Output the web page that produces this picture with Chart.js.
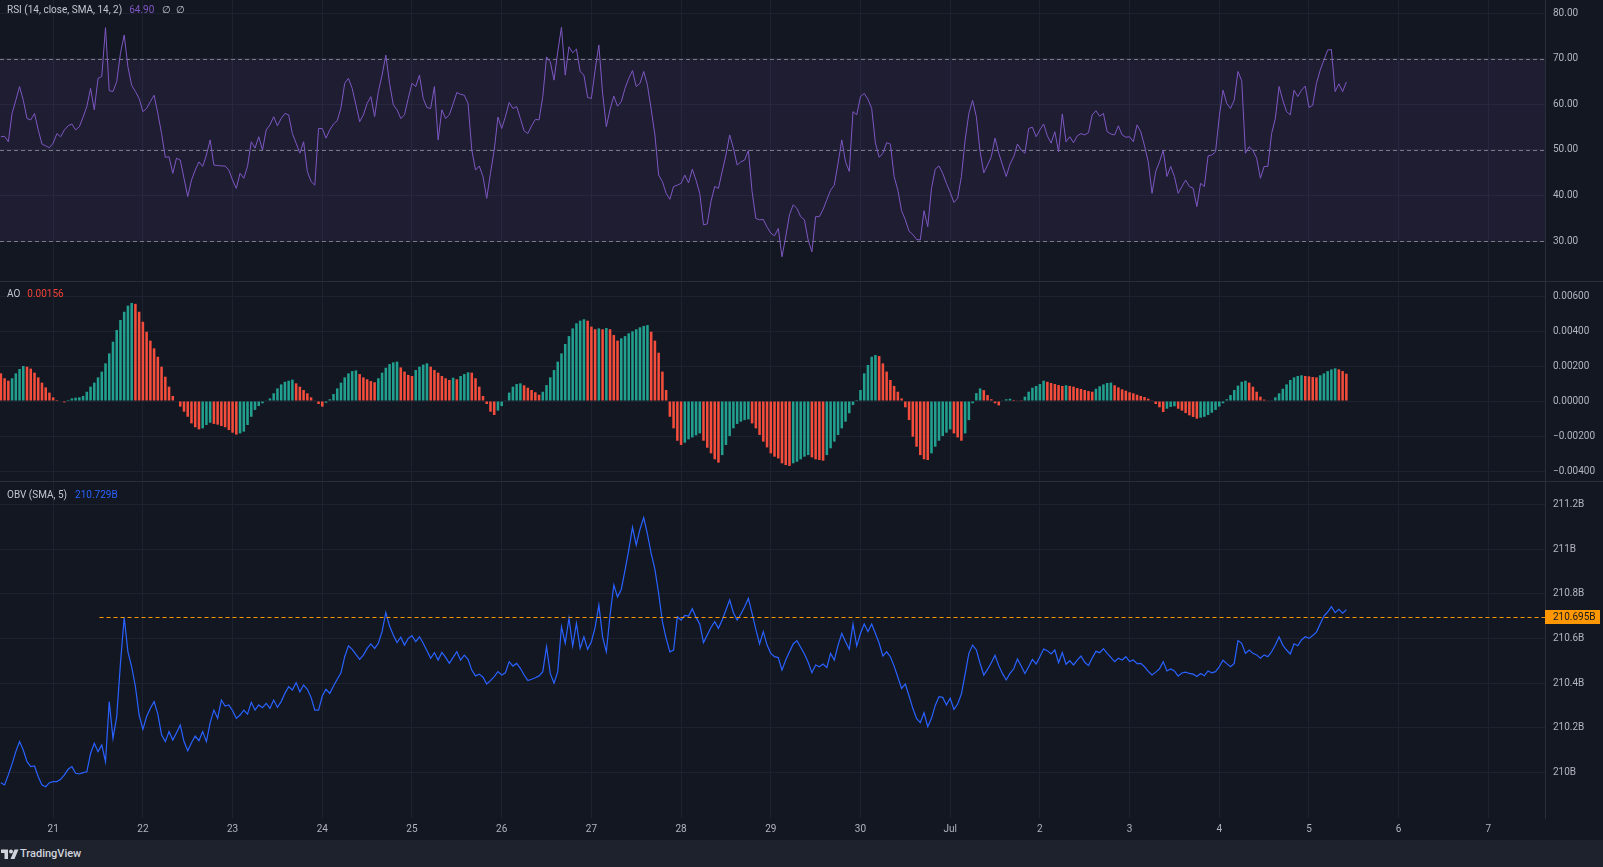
<!DOCTYPE html>
<html>
<head>
<meta charset="utf-8">
<title>RSI / AO / OBV</title>
<script src="https://cdn.jsdelivr.net/npm/chart.js@4.4.1/dist/chart.umd.min.js"></script>
<style>
    html, body { margin: 0; padding: 0; background: #131722; }
    body { width: 1603px; height: 867px; position: relative; overflow: hidden; font-family: Roboto, 'Noto Sans', sans-serif; }
    canvas { position: absolute; left: 0; display: block; }
    .sep { position: absolute; left: 0; width: 1603px; height: 1px; background: #2a2e39; }
    .legend { position: absolute; left: 7px; font-size: 10px; line-height: 12px; color: #c3c6ce; white-space: nowrap; }
    .legend span { margin-left: 5px; }
    #footer { position: absolute; left: 0; top: 840px; width: 1603px; height: 27px; background: #1e222d; }
    #footer svg { position: absolute; left: 1px; top: 9px; }
    #footer .brand { position: absolute; left: 20px; top: 7px; font-size: 11px; line-height: 14px; font-weight: 500; color: #d1d4dc; }
</style>
</head>
<body>
<canvas id="rsiChart" width="1603" height="281" style="top:0"></canvas>
<div class="sep" style="top:281px"></div>
<canvas id="aoChart" width="1603" height="199" style="top:282px"></canvas>
<div class="sep" style="top:481px"></div>
<canvas id="obvChart" width="1603" height="358" style="top:482px"></canvas>

<div class="legend" id="rsiLegend" style="top:4px">RSI (14, close, SMA, 14, 2)<span id="rsiLast" style="color:#7e57c2;margin-left:7px"></span><span style="margin-left:8px">∅</span><span>∅</span></div>
<div class="legend" id="aoLegend" style="top:288px">AO<span id="aoLast" style="color:#f44336;margin-left:7px"></span></div>
<div class="legend" id="obvLegend" style="top:489px">OBV (SMA, 5)<span id="obvLast" style="color:#2962ff;margin-left:8px"></span></div>

<div id="footer">
    <svg width="18" height="10" viewBox="0 0 36 20">
        <path d="M14 20H7V8H0V1h14z" fill="#d1d4dc"/>
        <circle cx="20" cy="5" r="4" fill="#d1d4dc"/>
        <path d="M27 20h-8l8-19h8z" fill="#d1d4dc"/>
    </svg>
    <div class="brand">TradingView</div>
</div>

<script>
// hourly bars, hour 0 = 21 Jun 00:00
const FIRST_HOUR = -14;
const X_MIN = -14.23;
const X_MAX = 399.15;

const DAY_TICK_HOURS = [0, 24, 48, 72, 96, 120, 144, 168, 192, 216, 240, 264, 288, 312, 336, 360, 384];
const DAY_LABELS = ['21', '22', '23', '24', '25', '26', '27', '28', '29', '30', 'Jul', '2', '3', '4', '5', '6', '7'];

const RSI_VALUES = [
    52.9,53.0,51.8,58.0,60.9,63.9,60.9,56.9,56.6,58.0,54.4,51.3,50.9,50.5,
    51.5,53.6,52.9,54.4,55.3,55.7,54.4,55.1,57.2,59.5,63.5,58.8,65.7,66.1,76.8,63.0,62.8,65.0,71.2,75.2,68.2,64.2,62.8,61.3,
    58.4,59.1,60.6,62.0,58.0,53.6,48.4,48.5,44.9,48.2,47.8,43.8,39.8,43.4,45.6,47.4,46.4,48.9,52.2,46.7,46.6,46.5,46.5,45.6,
    43.4,41.6,44.9,43.8,46.4,51.8,50.4,52.9,50.0,54.4,55.5,57.3,55.3,56.9,58.0,57.7,53.6,51.5,49.3,51.8,45.3,43.1,42.3,54.7,
    54.7,52.6,54.4,55.7,56.4,59.3,64.6,65.7,63.5,59.9,56.2,57.7,60.2,61.7,57.3,62.8,66.4,70.8,64.6,59.9,58.8,56.9,57.7,61.3,
    64.6,63.9,66.4,61.3,59.3,59.1,63.9,52.2,58.8,56.9,57.7,60.1,62.6,62.2,62.0,60.2,50.0,45.6,46.5,44.2,39.4,44.9,50.0,57.2,
    54.7,57.3,60.4,59.1,59.5,56.9,54.2,53.6,55.3,56.7,56.6,61.7,70.4,69.3,65.3,71.5,76.9,66.4,72.6,71.3,72.1,67.2,66.4,61.5,
    61.3,67.5,73.0,62.4,55.1,58.9,61.8,59.6,60.6,63.5,65.7,67.4,63.9,64.6,67.2,64.2,58.9,53.3,44.5,43.1,40.5,39.2,42.0,42.3,
    42.7,44.5,42.8,45.8,43.4,40.5,33.6,33.8,38.7,42.0,41.6,45.3,48.9,53.3,50.4,46.7,47.4,47.8,49.9,40.9,35.0,34.7,34.8,33.1,
    31.8,31.2,32.8,26.6,31.0,35.8,38.0,37.2,35.4,34.7,30.3,27.7,35.4,35.4,37.0,39.1,41.2,42.3,47.1,52.2,47.4,45.3,58.4,57.7,
    61.7,62.4,61.1,59.1,51.5,48.4,49.3,51.6,51.3,44.2,41.2,36.7,34.7,32.2,31.5,30.4,30.3,36.7,33.2,41.6,45.8,46.5,44.9,42.7,
    40.7,38.5,39.4,44.2,52.2,58.0,60.9,57.3,49.6,45.0,46.7,48.5,52.6,49.3,46.7,44.2,46.9,48.5,51.3,50.0,49.3,54.7,55.0,52.9,
    54.4,55.7,53.1,51.5,54.0,49.6,57.9,51.8,52.9,51.6,53.1,53.6,53.3,53.8,57.7,58.6,57.4,58.0,54.0,53.5,53.3,55.3,53.3,52.8,
    52.9,51.8,55.5,54.0,50.9,47.4,40.5,45.3,47.4,49.9,44.2,46.4,44.2,40.5,42.0,43.4,42.0,41.6,37.6,42.7,42.0,48.7,48.9,49.6,
    57.3,63.1,60.2,59.1,60.9,67.2,65.2,49.3,50.7,49.9,48.2,43.8,46.4,46.4,53.6,56.9,63.9,60.9,58.4,57.7,63.1,61.7,63.1,64.0,
    59.3,59.8,64.6,67.5,69.7,71.9,72.0,62.8,64.5,62.8,64.9
];
const RSI_LEVELS = [70, 50, 30];
const RSI_TICKS = [30, 40, 50, 60, 70, 80];

const AO_VALUES = [
    0.00158,0.00130,0.00116,0.00130,0.00158,0.00183,0.00200,0.00196,0.00185,0.00162,0.00135,0.00105,0.00078,0.00048,
    0.00021,0.00006,0.00003,-0.00008,0.00006,0.00015,0.00019,0.00021,0.00029,0.00053,0.00082,0.00105,0.00135,0.00168,0.00215,0.00272,0.00339,0.00406,0.00463,0.00510,0.00545,0.00560,0.00555,0.00510,
    0.00453,0.00396,0.00345,0.00301,0.00253,0.00196,0.00139,0.00082,0.00029,0.00003,-0.00032,-0.00061,-0.00090,-0.00128,-0.00150,-0.00162,-0.00156,-0.00137,-0.00124,-0.00131,-0.00135,-0.00143,-0.00150,-0.00166,
    -0.00181,-0.00192,-0.00185,-0.00175,-0.00137,-0.00090,-0.00051,-0.00029,-0.00013,0.00002,0.00015,0.00044,0.00072,0.00095,0.00110,0.00116,0.00122,0.00101,0.00082,0.00063,0.00044,0.00021,0.00002,-0.00017,
    -0.00032,-0.00010,0.00010,0.00040,0.00072,0.00105,0.00135,0.00158,0.00171,0.00175,0.00154,0.00135,0.00124,0.00114,0.00107,0.00130,0.00162,0.00190,0.00211,0.00221,0.00225,0.00192,0.00168,0.00149,
    0.00143,0.00177,0.00196,0.00208,0.00215,0.00196,0.00177,0.00162,0.00143,0.00130,0.00120,0.00133,0.00124,0.00143,0.00154,0.00164,0.00162,0.00130,0.00082,0.00029,-0.00017,-0.00061,-0.00080,-0.00055,
    -0.00029,0.00002,0.00048,0.00082,0.00097,0.00101,0.00090,0.00076,0.00063,0.00050,0.00036,0.00053,0.00091,0.00135,0.00177,0.00225,0.00272,0.00326,0.00371,0.00415,0.00444,0.00459,0.00467,0.00459,
    0.00425,0.00410,0.00415,0.00410,0.00417,0.00410,0.00377,0.00345,0.00358,0.00371,0.00387,0.00398,0.00410,0.00421,0.00429,0.00434,0.00396,0.00345,0.00276,0.00168,0.00063,-0.00090,-0.00156,-0.00227,
    -0.00251,-0.00238,-0.00219,-0.00208,-0.00196,-0.00185,-0.00227,-0.00267,-0.00299,-0.00333,-0.00352,-0.00309,-0.00251,-0.00200,-0.00156,-0.00131,-0.00118,-0.00109,-0.00105,-0.00128,-0.00156,-0.00194,-0.00232,-0.00265,
    -0.00299,-0.00318,-0.00328,-0.00356,-0.00366,-0.00371,-0.00356,-0.00347,-0.00333,-0.00318,-0.00309,-0.00322,-0.00333,-0.00337,-0.00341,-0.00309,-0.00270,-0.00232,-0.00194,-0.00156,-0.00118,-0.00070,-0.00023,0.00006,
    0.00063,0.00158,0.00206,0.00253,0.00263,0.00257,0.00215,0.00168,0.00120,0.00086,0.00053,0.00015,-0.00036,-0.00109,-0.00204,-0.00261,-0.00309,-0.00333,-0.00337,-0.00299,-0.00261,-0.00227,-0.00200,-0.00181,
    -0.00162,-0.00185,-0.00208,-0.00227,-0.00185,-0.00109,-0.00013,0.00045,0.00072,0.00062,0.00034,0.00010,-0.00013,-0.00025,0.00002,0.00010,0.00013,0.00006,0.00002,0.00001,0.00025,0.00053,0.00076,0.00086,
    0.00097,0.00116,0.00110,0.00103,0.00097,0.00091,0.00086,0.00090,0.00086,0.00082,0.00074,0.00069,0.00063,0.00057,0.00053,0.00070,0.00084,0.00095,0.00103,0.00105,0.00090,0.00078,0.00067,0.00059,
    0.00050,0.00044,0.00036,0.00029,0.00023,0.00013,0.00004,-0.00017,-0.00036,-0.00063,-0.00044,-0.00034,-0.00030,-0.00044,-0.00055,-0.00069,-0.00082,-0.00091,-0.00101,-0.00095,-0.00090,-0.00080,-0.00067,-0.00051,
    -0.00032,-0.00013,0.00010,0.00034,0.00063,0.00088,0.00110,0.00116,0.00105,0.00082,0.00053,0.00025,0.00008,0.00002,0.00004,0.00021,0.00044,0.00070,0.00095,0.00120,0.00135,0.00143,0.00147,0.00143,
    0.00141,0.00137,0.00135,0.00147,0.00158,0.00171,0.00181,0.00187,0.00181,0.00171,0.00156
];
const AO_TICKS = [-0.004, -0.002, 0, 0.002, 0.004, 0.006];

// OBV in billions
const OBV_VALUES = [
    209.955,209.945,209.990,210.039,210.094,210.139,210.101,210.049,210.027,210.030,209.982,209.945,209.937,209.955,
    209.960,209.960,209.970,209.990,210.015,210.027,209.997,209.994,210.000,210.004,210.086,210.131,210.094,210.124,210.049,210.318,210.154,210.251,210.489,210.695,210.541,210.474,210.385,210.258,
    210.194,210.251,210.288,210.318,210.262,210.169,210.139,210.184,210.146,210.179,210.213,210.139,210.098,210.134,210.164,210.143,210.184,210.139,210.224,210.280,210.243,210.325,210.298,210.303,
    210.277,210.243,210.258,210.280,210.262,210.315,210.280,210.303,210.291,210.310,210.288,210.325,210.292,210.318,210.355,210.385,210.370,210.403,210.362,210.392,210.373,210.337,210.280,210.280,
    210.343,210.373,210.355,210.388,210.418,210.447,210.519,210.568,210.552,210.529,210.507,210.526,210.556,210.576,210.556,210.579,210.631,210.716,210.656,210.616,210.582,210.606,210.571,210.601,
    210.613,210.586,210.608,210.579,210.546,210.512,210.537,210.504,210.538,210.516,210.489,210.516,210.541,210.504,210.526,210.507,210.459,210.433,210.441,210.427,210.397,210.412,210.430,210.452,
    210.437,210.447,210.497,210.477,210.489,210.467,210.437,210.412,210.418,210.425,210.433,210.452,210.564,210.444,210.400,210.452,210.653,210.579,210.691,210.567,210.668,210.556,210.608,210.552,
    210.586,210.650,210.750,210.608,210.541,210.705,210.840,210.787,210.820,210.907,210.996,211.098,211.019,211.089,211.142,211.068,210.981,210.910,210.802,210.676,210.601,210.541,210.549,210.698,
    210.683,210.704,210.701,210.734,210.695,210.665,210.582,210.616,210.650,210.676,210.646,210.683,210.728,210.773,210.716,210.683,210.710,210.743,210.780,210.713,210.641,210.576,210.631,210.571,
    210.534,210.519,210.515,210.459,210.504,210.541,210.576,210.591,210.561,210.531,210.494,210.447,210.482,210.474,210.486,210.470,210.534,210.504,210.571,210.623,210.586,210.552,210.665,210.567,
    210.623,210.665,210.631,210.665,210.623,210.579,210.522,210.541,210.519,210.477,210.427,210.377,210.397,210.343,210.288,210.243,210.224,210.268,210.206,210.243,210.301,210.340,210.337,210.303,
    210.333,210.283,210.307,210.352,210.441,210.534,210.571,210.549,210.489,210.437,210.462,210.492,210.525,210.479,210.443,210.415,210.444,210.465,210.509,210.477,210.444,210.474,210.507,210.486,
    210.519,210.553,210.546,210.531,210.549,210.492,210.537,210.485,210.501,210.482,210.504,210.522,210.494,210.479,210.513,210.543,210.537,210.555,210.534,210.516,210.497,210.512,210.504,210.519,
    210.497,210.504,210.488,210.489,210.474,210.453,210.437,210.450,210.465,210.497,210.455,210.464,210.455,210.432,210.446,210.450,210.444,210.441,210.430,210.444,210.434,210.455,210.447,210.452,
    210.474,210.503,210.488,210.474,210.489,210.591,210.579,210.534,210.549,210.534,210.527,210.512,210.527,210.519,210.541,210.571,210.607,210.571,210.549,210.531,210.577,210.568,210.594,210.608,
    210.601,210.614,210.629,210.665,210.701,210.719,210.743,210.716,210.731,210.714,210.729
];
const OBV_TICKS = [210, 210.2, 210.4, 210.6, 210.8, 211, 211.2];
const OBV_TICK_LABELS = ['210B', '210.2B', '210.4B', '210.6B', '210.8B', '211B', '211.2B'];
const OBV_LEVEL = 210.695;
const OBV_LEVEL_START_HOUR = 12.4;

const FONT = 'Roboto, "Noto Sans", sans-serif';
const AXIS_TEXT = '#b2b5be';
const GRID_COLOR = '#1e2230';
const AO_UP = '#22a08f';
const AO_DOWN = '#f44d3c';

function toPoints(values) {
    return values.map((v, i) => ({ x: FIRST_HOUR + i, y: v }));
}

// shared pane options: right price axis, day grid
function paneOptions(yMin, yMax, yTicks, yFormat, showTime) {
    return {
        responsive: false,
        animation: false,
        events: [],
        layout: { padding: 0 },
        plugins: { legend: { display: false }, tooltip: { enabled: false } },
        scales: {
            x: {
                type: 'linear',
                min: X_MIN,
                max: X_MAX,
                offset: false,
                afterBuildTicks: s => { s.ticks = DAY_TICK_HOURS.map(v => ({ value: v })); },
                afterFit: s => { s.height = showTime ? 22 : 0; s.paddingLeft = 0; s.paddingRight = 0; },
                grid: { color: GRID_COLOR, drawTicks: false, offset: false },
                border: { display: false },
                ticks: {
                    display: showTime,
                    color: AXIS_TEXT,
                    font: { family: FONT, size: 10 },
                    padding: 5,
                    maxRotation: 0,
                    autoSkip: false,
                    callback: v => DAY_LABELS[DAY_TICK_HOURS.indexOf(v)]
                }
            },
            y: {
                position: 'right',
                min: yMin,
                max: yMax,
                afterBuildTicks: s => { s.ticks = yTicks.map(v => ({ value: v })); },
                afterFit: s => { s.width = 58; s.paddingTop = 0; s.paddingBottom = 0; },
                grid: { color: GRID_COLOR, drawTicks: false },
                border: { display: true, color: '#2a2e39' },
                ticks: {
                    color: AXIS_TEXT,
                    font: { family: FONT, size: 10 },
                    padding: 8,
                    callback: yFormat
                }
            }
        }
    };
}

// RSI band and the 70 / 50 / 30 dashed levels
const rsiBands = {
    id: 'rsiBands',
    beforeDatasetsDraw(chart) {
        const { ctx, chartArea: a, scales: { y } } = chart;
        const top = y.getPixelForValue(RSI_LEVELS[0]);
        const bottom = y.getPixelForValue(RSI_LEVELS[2]);
        ctx.save();
        ctx.fillStyle = 'rgba(126, 87, 194, 0.1)';
        ctx.fillRect(a.left, top, a.right - a.left, bottom - top);
        ctx.strokeStyle = '#787b86';
        ctx.lineWidth = 1;
        ctx.setLineDash([4, 3]);
        RSI_LEVELS.forEach(v => {
            const py = Math.round(y.getPixelForValue(v)) + 0.5;
            ctx.beginPath();
            ctx.moveTo(a.left, py);
            ctx.lineTo(a.right, py);
            ctx.stroke();
        });
        ctx.restore();
    }
};

// orange horizontal drawing and its price label
const obvLevel = {
    id: 'obvLevel',
    afterDatasetsDraw(chart) {
        const { ctx, chartArea: a, scales: { x, y } } = chart;
        const py = Math.round(y.getPixelForValue(OBV_LEVEL)) + 0.5;
        ctx.save();
        ctx.strokeStyle = '#ff9800';
        ctx.lineWidth = 1;
        ctx.setLineDash([4, 3]);
        ctx.beginPath();
        ctx.moveTo(x.getPixelForValue(OBV_LEVEL_START_HOUR), py);
        ctx.lineTo(a.right, py);
        ctx.stroke();
        ctx.restore();
    },
    afterDraw(chart) {
        const { ctx, chartArea: a, scales: { y } } = chart;
        const py = Math.round(y.getPixelForValue(OBV_LEVEL));
        ctx.save();
        ctx.fillStyle = '#ff9800';
        ctx.fillRect(a.right, py - 7, 55, 14);
        ctx.fillStyle = '#131722';
        ctx.font = '10px ' + FONT;
        ctx.textBaseline = 'middle';
        ctx.fillText(OBV_LEVEL.toFixed(3) + 'B', a.right + 8, py + 0.5);
        ctx.restore();
    }
};

new Chart(document.getElementById('rsiChart'), {
    type: 'line',
    data: {
        datasets: [{
            data: toPoints(RSI_VALUES),
            borderColor: '#7e57c2',
            borderWidth: 1,
            pointRadius: 0,
            tension: 0
        }]
    },
    options: paneOptions(21.3, 82.86, RSI_TICKS, v => v.toFixed(2), false),
    plugins: [rsiBands]
});

const aoColors = AO_VALUES.map((v, i) => (i > 0 && v >= AO_VALUES[i - 1]) ? AO_UP : AO_DOWN);
new Chart(document.getElementById('aoChart'), {
    type: 'bar',
    data: {
        datasets: [{
            data: toPoints(AO_VALUES),
            backgroundColor: aoColors,
            borderWidth: 0,
            barPercentage: 0.68,
            categoryPercentage: 1
        }]
    },
    options: paneOptions(-0.00457, 0.0068, AO_TICKS,
        v => (v < 0 ? '\u2212' : '') + Math.abs(v).toFixed(5), false)
});

new Chart(document.getElementById('obvChart'), {
    type: 'line',
    data: {
        datasets: [{
            data: toPoints(OBV_VALUES),
            borderColor: '#2962ff',
            borderWidth: 1.2,
            pointRadius: 0,
            tension: 0
        }]
    },
    options: paneOptions(209.797, 211.301, OBV_TICKS,
        v => OBV_TICK_LABELS[OBV_TICKS.indexOf(v)], true),
    plugins: [obvLevel]
});

// legend values from the last bar
document.getElementById('rsiLast').textContent = RSI_VALUES[RSI_VALUES.length - 1].toFixed(2);
document.getElementById('aoLast').textContent = AO_VALUES[AO_VALUES.length - 1].toFixed(5);
document.getElementById('obvLast').textContent = OBV_VALUES[OBV_VALUES.length - 1].toFixed(3) + 'B';
</script>
</body>
</html>
